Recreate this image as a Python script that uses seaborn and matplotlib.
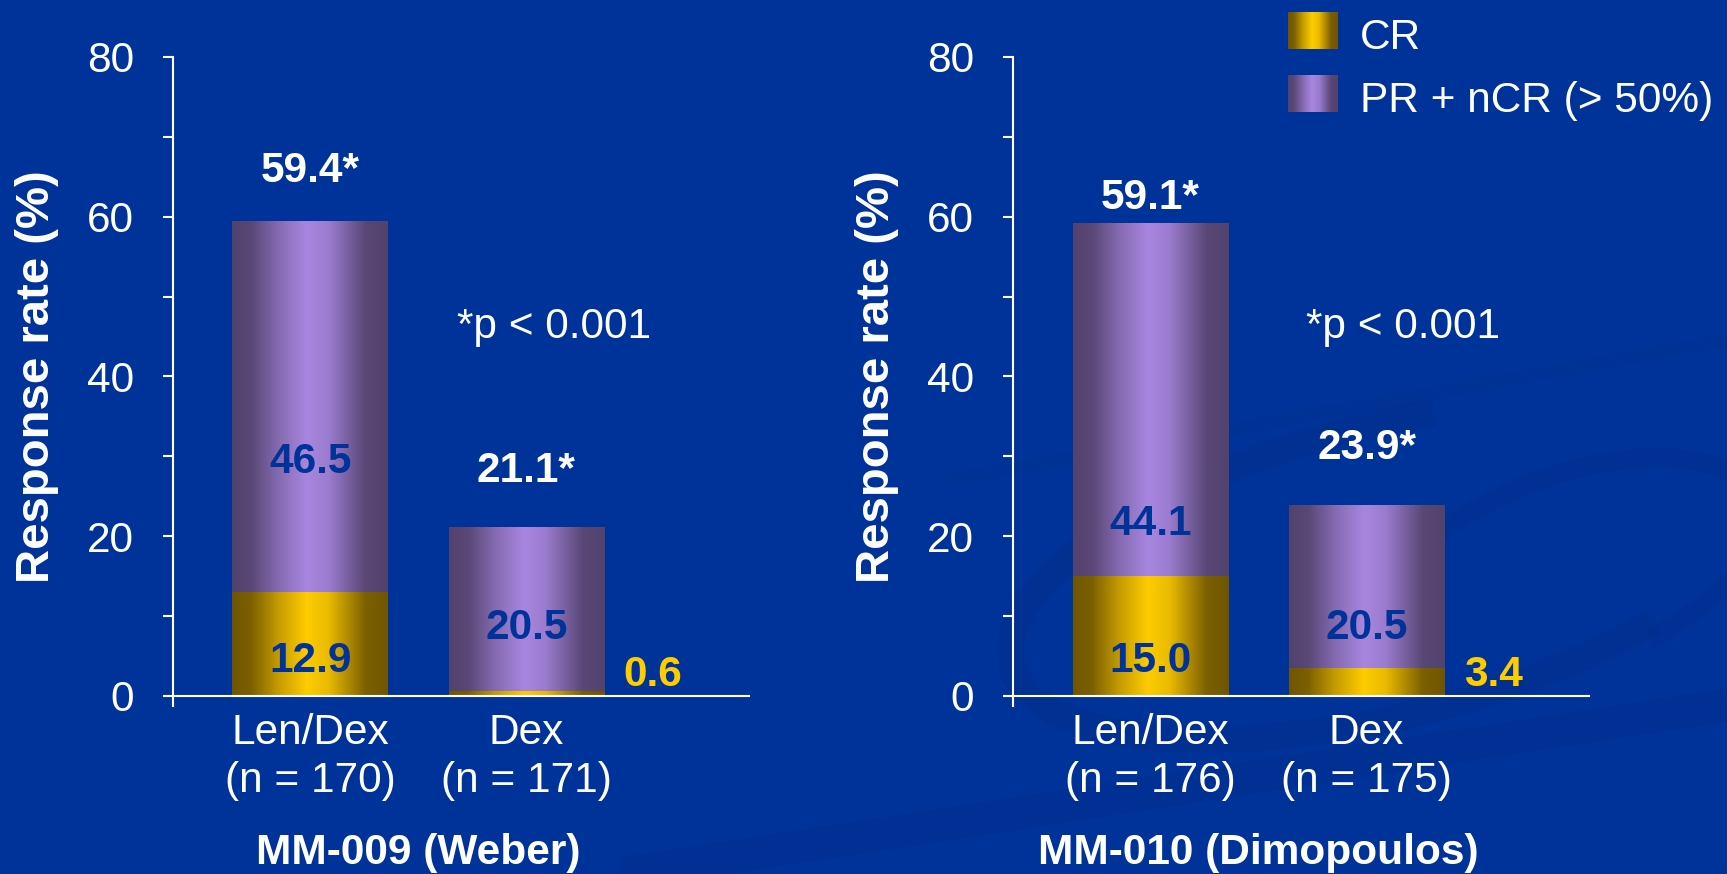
import numpy as np
import pandas as pd
import matplotlib
matplotlib.use("Agg")
import matplotlib.pyplot as plt
import seaborn as sns
from matplotlib.patches import Arc
from matplotlib.transforms import blended_transform_factory

# ---- data -------------------------------------------------------------
studies = ["MM-009 (Weber)", "MM-010 (Dimopoulos)"]
arms = ["Len/Dex", "Dex"]
n_patients = [[170, 171], [176, 175]]
cr_rate = [[12.9, 0.6], [15.0, 3.4]]          # complete response
pr_ncr_rate = [[46.5, 20.5], [44.1, 20.5]]    # PR + nCR (> 50%)
overall_rate = [[59.4, 21.1], [59.1, 23.9]]   # overall response, p < 0.001
y_ticks = [0, 20, 40, 60, 80]
legend_labels = ["CR", "PR + nCR (> 50%)"]
p_value_text = "*p < 0.001"

# ---- style ------------------------------------------------------------
BG = "#003399"
PURPLE_EDGE, PURPLE_MID = np.array([0x52, 0x42, 0x6C]), np.array([0xA8, 0x86, 0xE0])
GOLD_EDGE, GOLD_MID = np.array([0x70, 0x56, 0x00]), np.array([0xFF, 0xCC, 0x00])
GOLD_TEXT = "#FFCC00"

sns.set_style("white")
plt.rcParams["font.family"] = ["Liberation Sans", "DejaVu Sans"]
FS = 30.5


def shade(edge, mid, n=256):
    """Horizontal cylinder-like shading from edge colour to a highlight."""
    t = np.linspace(0, 1, n)
    w = np.interp(t, [0, 0.12, 0.30, 0.48, 0.62, 0.86, 1.0],
                     [0.0, 0.08, 0.6, 1.0, 0.85, 0.08, 0.0])
    rgb = edge[None, :] + (mid - edge)[None, :] * w[:, None]
    return (rgb / 255.0)[None, :, :]


PURPLE_IMG = shade(PURPLE_EDGE, PURPLE_MID)
GOLD_IMG = shade(GOLD_EDGE, GOLD_MID)

rows = []
for s, study in enumerate(studies):
    for a, arm in enumerate(arms):
        rows.append({
            "study": study,
            "arm": f"{arm}\n(n = {n_patients[s][a]})",
            "cr": cr_rate[s][a],
            "pr": pr_ncr_rate[s][a],
            "total": cr_rate[s][a] + pr_ncr_rate[s][a],
            "overall": overall_rate[s][a],
        })
df = pd.DataFrame(rows)

fig = plt.figure(figsize=(17.27, 8.74), dpi=100, facecolor=BG)

# faint decorative swirl behind the charts
bg = fig.add_axes([0, 0, 1, 1], zorder=-5)
bg.set_xlim(0, 1727)
bg.set_ylim(874, 0)
bg.axis("off")
swirl = "#002C88"
bg.add_patch(Arc((1390, 570), 780, 290, angle=-14, theta1=25, theta2=300,
                 color=swirl, lw=20, alpha=0.40))
bg.add_patch(Arc((1570, 570), 400, 190, angle=-20, theta1=200, theta2=420,
                 color=swirl, lw=14, alpha=0.35))
bg.plot([620, 1727], [874, 705], color=swirl, lw=24, alpha=0.35,
        solid_capstyle="butt")
bg.plot([950, 1727], [480, 340], color=swirl, lw=10, alpha=0.25,
        solid_capstyle="butt")

ax_left = [0.1002, 0.5867]
overall_label_y = [[65.7, 28.2], [62.3, 31.0]]
pr_label_y = [[29.3, 8.5], [21.5, 8.5]]
p_text_x = [0.68, 0.72]
BAR_W = 0.72

for s, study in enumerate(studies):
    ax = fig.add_axes([ax_left[s], 0.1927, 0.3335, 0.7421])
    ax.set_facecolor("none")
    sub = df[df["study"] == study]

    sns.barplot(data=sub, x="arm", y="total", color=PURPLE_MID / 255,
                width=BAR_W, errorbar=None, ax=ax)
    sns.barplot(data=sub, x="arm", y="cr", color=GOLD_MID / 255,
                width=BAR_W, errorbar=None, ax=ax)

    # replace flat fills with shaded images
    n = len(sub)
    for i, patch in enumerate(list(ax.patches)):
        x0, y0 = patch.get_x(), patch.get_y()
        w, h = patch.get_width(), patch.get_height()
        img = PURPLE_IMG if i < n else GOLD_IMG
        ax.imshow(img, extent=[x0, x0 + w, y0, y0 + h], aspect="auto",
                  interpolation="bilinear", zorder=2 + (i >= n) * 0.5)
        patch.set_visible(False)

    ax.set_xlim(-0.635, 2.03)
    ax.set_ylim(-1.2, 80)
    ax.set_xlabel("")
    ax.set_ylabel("")

    for side in ("top", "right"):
        ax.spines[side].set_visible(False)
    for side in ("left", "bottom"):
        ax.spines[side].set_color("white")
        ax.spines[side].set_linewidth(1.5)
        ax.spines[side].set_zorder(4)
    ax.spines["bottom"].set_position(("data", 0))

    ax.set_yticks(y_ticks)
    ax.set_yticks([10, 30, 50, 70], minor=True)
    ax.tick_params(axis="y", which="both", left=True, direction="out",
                   length=7.2, width=1.5, color="white", labelcolor="white",
                   labelsize=FS, pad=21)
    ax.tick_params(axis="x", length=0, labelcolor="white", labelsize=FS,
                   pad=12)
    for t in ax.get_xticklabels():
        t.set_linespacing(1.27)

    for a in range(n):
        cr = sub["cr"].iloc[a]
        ax.text(a, overall_label_y[s][a], f"{sub['overall'].iloc[a]:.1f}*",
                ha="center", va="center", color="white", fontsize=FS,
                fontweight="bold", zorder=6)
        ax.text(a, pr_label_y[s][a], f"{sub['pr'].iloc[a]:.1f}", ha="center",
                va="center", color=BG, fontsize=FS, fontweight="bold",
                zorder=6)
        if cr > 5:
            ax.text(a, 4.4, f"{cr:.1f}", ha="center", va="center", color=BG,
                    fontsize=FS, fontweight="bold", zorder=6)
        else:
            ax.text(a + BAR_W / 2 + 0.09, 2.6, f"{cr:.1f}", ha="left",
                    va="center", color=GOLD_TEXT, fontsize=FS,
                    fontweight="bold", zorder=6)

    ax.text(p_text_x[s], 46.2, p_value_text, ha="left", va="center",
            color="white", fontsize=FS)

    trans = blended_transform_factory(ax.transData, ax.transAxes)
    ax.text(0.5, -0.228, study, transform=trans, ha="center", va="center",
            color="white", fontsize=FS, fontweight="bold")

    fig.text(ax_left[s] - 136 / 1727, 1 - 377 / 874, "Response rate (%)",
             rotation=90, ha="center", va="center", color="white",
             fontsize=34, fontweight="bold")

# legend with shaded swatches
W, H = 1727, 874
for k, (lab, img) in enumerate(zip(legend_labels, [GOLD_IMG, PURPLE_IMG])):
    top = [12, 75][k]
    sw = fig.add_axes([1288 / W, 1 - (top + 37) / H, 50 / W, 37 / H])
    sw.imshow(img, aspect="auto", interpolation="bilinear")
    sw.axis("off")
    fig.text(1360 / W, 1 - (top + 37) / H, lab, ha="left", va="baseline",
             color="white", fontsize=FS)

fig.savefig("out.png", dpi=100, facecolor=BG)
